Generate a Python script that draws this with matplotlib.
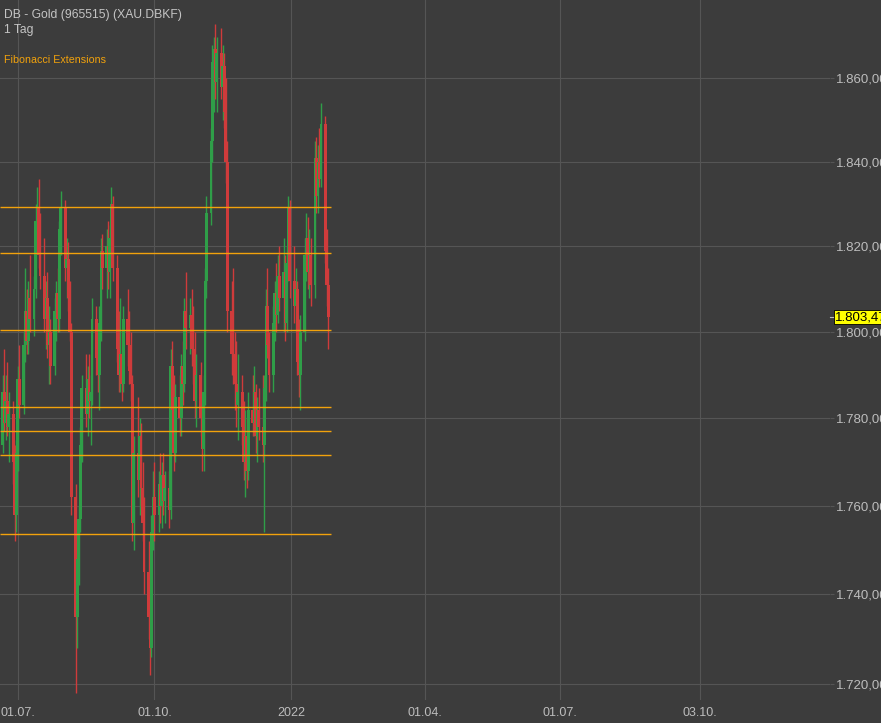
import numpy as np
import pandas as pd
import matplotlib
matplotlib.use("Agg")
import matplotlib.pyplot as plt
import matplotlib.dates as mdates
from matplotlib.ticker import FixedLocator, FuncFormatter, NullLocator

plt.rcParams['font.family'] = ['Liberation Sans', 'DejaVu Sans']

# daily candles, Jun 2021 - Jan 2022
dates = pd.bdate_range("2021-06-21", periods=158)

opens = [1774, 1786, 1779, 1784, 1778, 1781, 1770, 1758, 1772, 1789,
         1783, 1797, 1805, 1798, 1808, 1803, 1810, 1826, 1829, 1818,
         1813, 1803, 1808, 1797, 1800, 1792, 1805, 1809, 1803, 1824,
         1829, 1815, 1817, 1808, 1800, 1762, 1735, 1748, 1757, 1774,
         1787, 1781, 1789, 1784, 1786, 1803, 1794, 1790, 1802, 1819,
         1815, 1820, 1814, 1822, 1830, 1815, 1796, 1790, 1795, 1788,
         1803, 1797, 1791, 1788, 1756, 1772, 1766, 1776, 1764, 1756,
         1745, 1735, 1728, 1754, 1762, 1758, 1765, 1760, 1767, 1761,
         1764, 1759, 1792, 1782, 1772, 1785, 1780, 1792, 1788, 1805,
         1801, 1804, 1796, 1792, 1784, 1790, 1780, 1773, 1786, 1812,
         1828, 1845, 1864, 1867, 1859, 1866, 1858, 1863, 1852, 1840,
         1805, 1795, 1791, 1788, 1783, 1786, 1778, 1770, 1776, 1768,
         1782, 1779, 1786, 1776, 1782, 1778, 1774, 1787, 1806, 1797,
         1790, 1802, 1809, 1804, 1813, 1808, 1814, 1802, 1816, 1829,
         1812, 1806, 1810, 1793, 1790, 1800, 1818, 1822, 1814, 1818,
         1811, 1841, 1832, 1840, 1836, 1849, 1819, 1811]
highs = [1790, 1796, 1790, 1793, 1786, 1784, 1774, 1775, 1792, 1797,
         1800, 1815, 1810, 1812, 1818, 1813, 1830, 1834, 1836, 1828,
         1822, 1812, 1814, 1806, 1803, 1808, 1812, 1815, 1826, 1833,
         1831, 1822, 1821, 1812, 1802, 1765, 1752, 1760, 1778, 1790,
         1795, 1792, 1795, 1790, 1808, 1806, 1800, 1806, 1822, 1823,
         1824, 1826, 1825, 1834, 1832, 1818, 1805, 1808, 1800, 1806,
         1810, 1805, 1800, 1790, 1776, 1785, 1780, 1779, 1770, 1762,
         1752, 1740, 1758, 1768, 1770, 1768, 1772, 1770, 1772, 1768,
         1768, 1796, 1798, 1790, 1788, 1790, 1795, 1798, 1808, 1814,
         1808, 1810, 1806, 1800, 1795, 1793, 1786, 1790, 1815, 1832,
         1848, 1868, 1870, 1873, 1870, 1872, 1868, 1866, 1860, 1845,
         1812, 1815, 1800, 1798, 1795, 1790, 1784, 1782, 1780, 1786,
         1790, 1792, 1788, 1785, 1787, 1790, 1790, 1810, 1815, 1800,
         1806, 1812, 1816, 1818, 1820, 1822, 1818, 1820, 1832, 1831,
         1820, 1815, 1812, 1803, 1804, 1822, 1828, 1827, 1824, 1822,
         1845, 1846, 1844, 1848, 1854, 1851, 1824, 1815]
lows = [1772, 1777, 1775, 1776, 1770, 1765, 1752, 1754, 1768, 1780,
        1781, 1793, 1795, 1795, 1800, 1799, 1808, 1820, 1815, 1810,
        1800, 1796, 1794, 1788, 1788, 1790, 1798, 1800, 1800, 1818,
        1812, 1808, 1805, 1798, 1758, 1718, 1728, 1742, 1754, 1770,
        1778, 1776, 1780, 1774, 1783, 1790, 1786, 1782, 1798, 1810,
        1808, 1810, 1808, 1818, 1812, 1793, 1786, 1786, 1784, 1786,
        1792, 1788, 1784, 1752, 1750, 1762, 1758, 1760, 1752, 1740,
        1730, 1722, 1726, 1750, 1752, 1754, 1756, 1755, 1758, 1756,
        1755, 1757, 1778, 1768, 1770, 1776, 1776, 1783, 1786, 1796,
        1795, 1792, 1788, 1780, 1778, 1776, 1768, 1768, 1783, 1808,
        1825, 1840, 1852, 1855, 1852, 1855, 1850, 1848, 1835, 1800,
        1790, 1788, 1782, 1778, 1775, 1774, 1766, 1762, 1764, 1766,
        1776, 1776, 1772, 1770, 1775, 1770, 1754, 1784, 1794, 1786,
        1786, 1798, 1800, 1802, 1805, 1800, 1798, 1800, 1812, 1808,
        1802, 1800, 1790, 1785, 1782, 1798, 1812, 1810, 1808, 1806,
        1808, 1828, 1828, 1834, 1834, 1816, 1806, 1796]
closes = [1786, 1779, 1784, 1778, 1781, 1770, 1758, 1772, 1789, 1783,
          1797, 1805, 1798, 1808, 1803, 1810, 1826, 1829, 1818, 1813,
          1803, 1808, 1797, 1800, 1792, 1805, 1809, 1803, 1824, 1829,
          1815, 1817, 1808, 1800, 1762, 1735, 1748, 1757, 1774, 1787,
          1781, 1789, 1784, 1786, 1803, 1794, 1790, 1802, 1819, 1815,
          1820, 1814, 1822, 1830, 1815, 1796, 1790, 1795, 1788, 1803,
          1797, 1791, 1788, 1756, 1772, 1766, 1776, 1764, 1756, 1745,
          1735, 1728, 1754, 1762, 1758, 1765, 1760, 1767, 1761, 1764,
          1759, 1792, 1782, 1772, 1785, 1780, 1792, 1788, 1805, 1801,
          1804, 1796, 1792, 1784, 1790, 1780, 1773, 1786, 1812, 1828,
          1845, 1864, 1867, 1859, 1866, 1858, 1863, 1852, 1840, 1805,
          1795, 1791, 1788, 1783, 1786, 1778, 1770, 1776, 1768, 1782,
          1779, 1786, 1776, 1782, 1778, 1774, 1787, 1806, 1797, 1790,
          1802, 1809, 1804, 1813, 1808, 1814, 1802, 1816, 1829, 1812,
          1806, 1810, 1793, 1790, 1800, 1818, 1822, 1814, 1818, 1811,
          1841, 1832, 1840, 1836, 1849, 1819, 1811, 1803.47]

fib_levels = [1829.4, 1818.4, 1800.4, 1782.6, 1777.1, 1771.6, 1753.6]
price_ticks = [1720, 1740, 1760, 1780, 1800, 1820, 1840, 1860]
date_ticks = ["2021-07-01", "2021-10-01", "2022-01-01", "2022-04-01", "2022-07-01", "2022-10-03"]
date_labels = ["01.07.", "01.10.", "2022", "01.04.", "01.07.", "03.10."]
last_price = 1803.47

bg = "#3c3c3c"
grid_c = "#555555"
text_c = "#bdbdbd"
up_c = "#2f9e48"
down_c = "#cf3b3b"
fib_c = "#f2a20c"

fig = plt.figure(figsize=(8.81, 7.23), dpi=100, facecolor=bg)
ax = fig.add_axes([0, 23 / 723, 830 / 881, 700 / 723], facecolor=bg)

x = mdates.date2num(dates)
o = np.array(opens, dtype=float)
h = np.array(highs, dtype=float)
l = np.array(lows, dtype=float)
c = np.array(closes, dtype=float)
cols = np.where(c >= o, up_c, down_c)

ax.set_yscale("log")
ax.vlines(x, l, h, colors=cols, lw=1.0, zorder=3)
ax.bar(x, np.maximum(np.abs(c - o), 0.3), bottom=np.minimum(o, c), width=1.9,
       color=cols, lw=0, zorder=4)

# x range: 1.4865 px per day, 01.07.2021 at 17.7 px
ref = mdates.date2num(pd.Timestamp("2021-07-01"))
x_left = ref - 17.7 / 1.4865
x_right = ref + (830 - 17.7) / 1.4865
ax.set_xlim(x_left, x_right)
ax.set_ylim(1716.4, 1878.9)

fib_end = ref + (331 - 17.7) / 1.4865
ax.hlines(fib_levels, x_left, fib_end, colors=fib_c, lw=1.0, zorder=5)

ax.grid(True, color=grid_c, lw=0.8, zorder=0)
ax.set_axisbelow(True)
for s in ax.spines.values():
    s.set_visible(False)

def de_fmt(v, pos=None):
    s = f"{v:,.2f}"
    return s.replace(",", "X").replace(".", ",").replace("X", ".")

ax.yaxis.tick_right()
ax.yaxis.set_major_locator(FixedLocator(price_ticks))
ax.yaxis.set_minor_locator(NullLocator())
ax.yaxis.set_major_formatter(FuncFormatter(de_fmt))
ax.tick_params(axis="y", labelsize=9.5, length=3, width=0.8, pad=1,
               color=grid_c, labelcolor=text_c)

ax.xaxis.set_major_locator(FixedLocator(mdates.date2num(pd.to_datetime(date_ticks))))
ax.xaxis.set_major_formatter(FuncFormatter(lambda v, p: date_labels[p] if p is not None and p < len(date_labels) else ""))
ax.tick_params(axis="x", length=0, labelsize=9, pad=5, labelcolor=text_c)

# last price marker
ax.plot([1.0, 1.0 + 4 / 830], [last_price, last_price], transform=ax.get_yaxis_transform(),
        color=text_c, lw=0.8, clip_on=False)
ax.text(1.0 + 5 / 830, last_price, de_fmt(last_price), transform=ax.get_yaxis_transform(),
        va="center", ha="left", fontsize=9.5, color="black", clip_on=False, zorder=10,
        bbox=dict(boxstyle="square,pad=0.1", fc="#ffff00", ec="black", lw=0.6))

fig.text(4 / 881, 1 - 15 / 723, "DB - Gold (965515) (XAU.DBKF)", color="#c4c4c4",
         fontsize=8.7, va="center", ha="left")
fig.text(4 / 881, 1 - 30 / 723, "1 Tag", color="#c4c4c4", fontsize=8.7, va="center", ha="left")
fig.text(4 / 881, 1 - 60 / 723, "Fibonacci Extensions", color=fib_c, fontsize=7.7,
         va="center", ha="left")

fig.savefig("out.png", dpi=100, facecolor=bg)
